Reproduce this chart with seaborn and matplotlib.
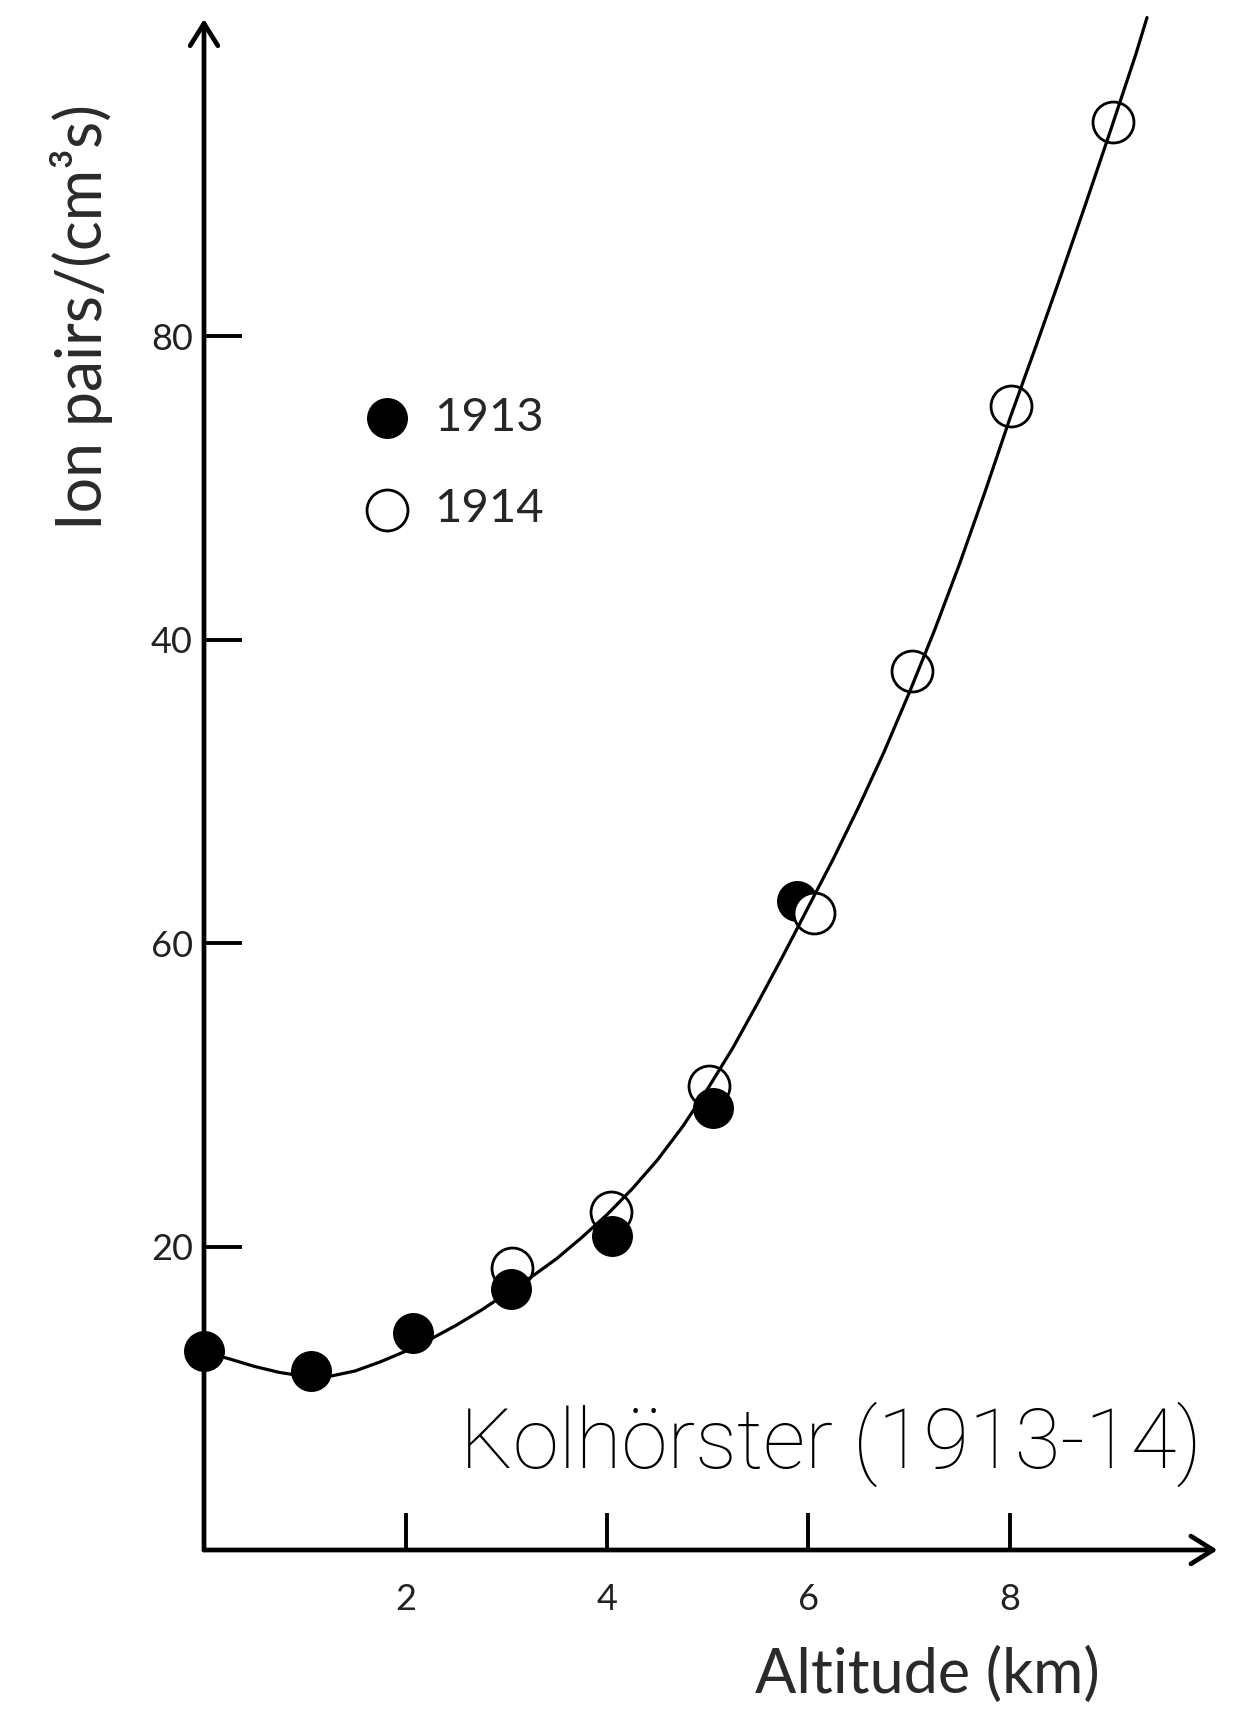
import numpy as np
import pandas as pd
import seaborn as sns
import matplotlib.pyplot as plt

# values
alt_1913 = [0.0, 1.06, 2.07, 3.05, 4.05, 5.05, 5.89]
ion_1913 = [13.1, 11.8, 14.3, 17.2, 20.7, 29.1, 42.8]
alt_1914 = [3.06, 4.04, 5.01, 6.05, 7.03, 8.01, 9.02]
ion_1914 = [18.6, 22.3, 30.6, 42.0, 57.9, 75.4, 94.1]

# hand-drawn fit curve
curve_alt = [0.0, 0.25, 0.5, 0.75, 1.0, 1.25, 1.5, 1.75, 2.0, 2.25, 2.5, 2.75,
             3.0, 3.25, 3.5, 3.75, 4.0, 4.25, 4.5, 4.75, 5.0, 5.25, 5.5, 5.75,
             6.0, 6.25, 6.5, 6.75, 7.0, 7.25, 7.5, 7.75, 8.0, 8.25, 8.5, 8.75,
             9.0, 9.25, 9.36]
curve_ion = [13.06, 12.6, 12.1, 11.7, 11.45, 11.45, 11.8, 12.4, 13.1, 13.9, 14.8, 15.8,
             16.9, 18.0, 19.2, 20.6, 22.1, 23.8, 25.7, 27.9, 30.4, 33.1, 36.1, 39.2,
             42.4, 45.6, 49.0, 52.6, 56.5, 60.6, 65.0, 69.7, 74.6, 79.2, 83.9, 88.7,
             93.6, 98.6, 101.0]

xticks = [2, 4, 6, 8]
yticks = [20, 40, 60, 80]
ytick_labels = ["20", "60", "40", "80"]

sns.set_theme(style="white")
plt.rcParams['font.family'] = ['Lato', 'DejaVu Sans']

W, H = 1259, 1714
fig = plt.figure(figsize=(W / 100, H / 100), dpi=100)
ax = fig.add_axes([204 / W, 164 / H, 10.1 * 100.75 / W, 101.5 * 15.173 / H])
ax.set_xlim(0, 10.1)
ax.set_ylim(0, 101.5)
for s in ax.spines.values():
    s.set_visible(False)

curve = pd.DataFrame({"alt": curve_alt, "ion": curve_ion})
sns.lineplot(data=curve, x="alt", y="ion", sort=False, estimator=None,
             color="black", lw=2.3, ax=ax, zorder=5, clip_on=False)

d13 = pd.DataFrame({"alt": alt_1913, "ion": ion_1913})
d14 = pd.DataFrame({"alt": alt_1914, "ion": ion_1914})
low = d13["alt"] < 5.5
sns.scatterplot(data=d13[~low], x="alt", y="ion", s=870, color="black",
                edgecolor="black", linewidth=0, ax=ax, zorder=2, clip_on=False)
sns.scatterplot(data=d14, x="alt", y="ion", s=870, facecolor="white",
                edgecolor="black", linewidth=2.0, ax=ax, zorder=3, label="1914", clip_on=False)
sns.scatterplot(data=d13[low], x="alt", y="ion", s=870, color="black",
                edgecolor="black", linewidth=0, ax=ax, zorder=4, label="1913", clip_on=False)

# axes drawn as arrows
arrow = dict(arrowstyle="->,head_length=0.8,head_width=0.5", lw=3.4, color="black",
             shrinkA=0, shrinkB=0, mutation_scale=20)
ax.annotate("", xy=(10.06, 0), xytext=(0, 0), arrowprops=arrow, annotation_clip=False)
ax.annotate("", xy=(0, 100.9), xytext=(0, 0), arrowprops=arrow, annotation_clip=False)

ax.set_xticks(xticks)
ax.set_xticklabels([str(t) for t in xticks])
ax.set_yticks(yticks)
ax.set_yticklabels(ytick_labels)
ax.tick_params(axis="both", direction="in", length=27, width=2.8, color="black",
               labelsize=26, labelcolor="#222222", bottom=True, left=True)
ax.tick_params(axis="x", pad=24)
ax.tick_params(axis="y", pad=8)
ax.set_xlabel("")
ax.set_ylabel("")

fig.text(927 / W, 1 - 1675 / H, "Altitude (km)", ha="center", va="center",
         fontsize=44, color="#2a2a2a")
fig.text(82 / W, 1 - 317 / H, "Ion pairs/(cm³s)", ha="center", va="center",
         rotation=90, fontsize=45, color="#2a2a2a")
fig.text(1202 / W, 1 - 1468 / H, "Kolhörster (1913-14)", ha="right", va="baseline",
         fontsize=60, family=["Roboto", "DejaVu Sans"], fontweight="light", color="black")

handles, labels = ax.get_legend_handles_labels()
order = [labels.index("1913"), labels.index("1914")]
ax.legend([handles[i] for i in order], [labels[i] for i in order],
          loc="center left", bbox_to_anchor=(363 / W, 1 - 463.5 / H),
          bbox_transform=fig.transFigure, frameon=False, fontsize=34,
          handlelength=1.0, handletextpad=0.5, labelspacing=1.05, borderpad=0,
          borderaxespad=0, markerscale=1.0)

fig.savefig("out.png", dpi=100, facecolor="white")
